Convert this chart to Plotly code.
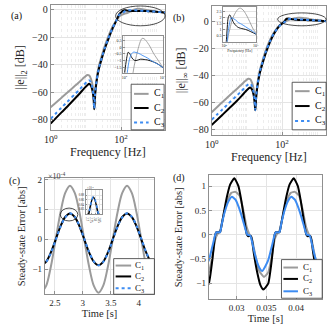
import plotly.graph_objects as go

W, H = 332, 324
SERIF = 'Liberation Serif'
GRAY = '#9b9b9b'
BLACK = '#000000'
BLUE = '#3d8cf2'
FRAME = '#8f8f8f'

# ---- (a), (b): error magnitude vs frequency ----
freq = [1, 2, 3, 5, 7, 9, 11, 12.5, 14, 15.5, 16.6, 17.3, 18.3, 20, 23, 28, 35, 45, 58, 75,
        90, 100, 110, 118, 125, 135, 150, 165, 180, 200, 230, 260, 290, 330, 400, 480, 580,
        700, 850, 1000, 1300, 1600, 2000]

a_c1 = [-71, -64.3, -60.3, -55.3, -52, -49.3, -47.6, -48, -50.5, -55, -62, -71.5, -60, -51, -42, -34, -26, -18.5, -12, -7.5,
        -4.8, -4.0, -3.5, -3.2, -3.0, -2.7, -2.4, -2.0, -1.4, -0.8, -0.1, 0.4, 0.65, 0.62, 0.35, 0.0, -0.45,
        -0.8, -1.15, -1.45, -1.8, -2.0, -2.3]
a_c2 = [-83, -75, -70.5, -64.5, -60.5, -57.3, -55, -54, -55.5, -59.5, -65, -72.5, -62, -53, -44, -36, -28, -20.5, -13.5, -7.5,
        -3.0, -2.0, -1.1, -0.6, -0.38, -0.45, -0.7, -0.88, -0.97, -1.0, -0.95, -0.9, -0.9, -0.92, -0.95, -1.02, -1.1,
        -1.2, -1.35, -1.5, -1.8, -2.0, -2.3]
a_c3 = [-79.5, -71.5, -67, -61.3, -57.5, -54.5, -52.2, -51.5, -53, -57.5, -64, -72, -61.5, -52.5, -43.5, -35.5, -27.5, -20, -13, -7.5,
        -3.6, -3.0, -2.4, -1.9, -1.4, -0.9, -0.55, -0.4, -0.37, -0.4, -0.45, -0.52, -0.6, -0.68, -0.8, -0.95, -1.1,
        -1.22, -1.35, -1.5, -1.8, -2.0, -2.3]

b_c1 = [-67.5, -60, -55.8, -50.5, -47, -44.3, -42.6, -43, -45.5, -50, -57, -65.5, -55, -46, -37, -29, -21, -14, -8.5, -4.5,
        -2.5, -1.7, -1.0, -0.5, -0.1, 0.5, 1.0, 1.45, 1.8, 2.1, 2.4, 2.6, 2.72, 2.75, 2.6, 2.3, 1.9,
        1.45, 1.0, 0.75, 0.45, 0.3, 0.1]
b_c2 = [-77, -69.5, -65, -59.5, -55.5, -52.3, -50, -49, -50.5, -54.5, -60, -66, -57, -48, -39, -31, -23, -15.5, -9.5, -5,
        -2.5, -1.6, -0.6, 0.2, 1.2, 2.0, 2.2, 2.0, 1.8, 1.55, 1.35, 1.22, 1.15, 1.1, 1.05, 1.0, 0.92,
        0.82, 0.72, 0.62, 0.45, 0.3, 0.1]
b_c3 = [-73, -65.5, -61, -55.5, -51.8, -48.8, -46.8, -46.2, -48, -52.5, -58.5, -65.8, -56, -47, -38, -30, -22, -15, -9, -5,
        -2.6, -1.8, -1.1, -0.5, 0.1, 0.9, 1.6, 1.95, 1.95, 1.88, 1.78, 1.65, 1.55, 1.48, 1.35, 1.22, 1.08,
        0.95, 0.8, 0.65, 0.45, 0.3, 0.1]

# ---- (c): steady-state error, x1e-4 ----
c_time = [2.26, 2.345, 2.43, 2.515, 2.6, 2.685, 2.77, 2.855, 2.94, 3.025, 3.11, 3.195, 3.28,
          3.365, 3.45, 3.535, 3.62, 3.705, 3.79, 3.875, 3.96, 4.045, 4.13, 4.215, 4.30]
c_c1 = [-1.8, -1.56, -0.9, 0, 0.9, 1.56, 1.8, 1.56, 0.9, 0, -0.9, -1.56, -1.8,
        -1.56, -0.9, 0, 0.9, 1.56, 1.8, 1.56, 0.9, 0, -0.9, -1.56, -1.8]
c_c2 = [-0.87, -0.75, -0.435, 0, 0.435, 0.75, 0.87, 0.75, 0.435, 0, -0.435, -0.75, -0.87,
        -0.75, -0.435, 0, 0.435, 0.75, 0.87, 0.75, 0.435, 0, -0.435, -0.75, -0.87]
c_c3 = [-0.87, -0.76, -0.45, -0.02, 0.42, 0.74, 0.872, 0.76, 0.45, 0.02, -0.42, -0.74, -0.872,
        -0.76, -0.45, -0.02, 0.42, 0.74, 0.872, 0.76, 0.45, 0.02, -0.42, -0.74, -0.872]

# ---- (d): steady-state error ----
d_time_c1 = [0.0246, 0.0253, 0.0259, 0.0264, 0.0268, 0.0272, 0.0277, 0.0284, 0.0291, 0.0298, 0.0305, 0.0311,
             0.0317, 0.0321, 0.0325, 0.0331, 0.0338, 0.0346, 0.0353, 0.0359, 0.0364, 0.0368, 0.0372, 0.0377,
             0.0384, 0.0391, 0.0398, 0.0405, 0.0411, 0.0417, 0.0421, 0.0425, 0.0431, 0.0438, 0.0446]
d_c1 = [-0.87, -0.78, -0.45, -0.1, 0.02, 0.08, 0.35, 0.68, 0.86, 0.88, 0.80, 0.52,
        0.15, 0.02, -0.05, -0.40, -0.75, -0.87, -0.78, -0.45, -0.1, 0.02, 0.08, 0.35,
        0.68, 0.86, 0.88, 0.80, 0.52, 0.15, 0.02, -0.05, -0.40, -0.75, -0.87]
d_time_c2 = [0.0245, 0.0253, 0.0259, 0.0264, 0.0266, 0.0272, 0.0274, 0.0279, 0.0284, 0.0289, 0.0296, 0.0303,
             0.0308, 0.0313, 0.0317, 0.0319, 0.0324, 0.0326, 0.0329, 0.0335, 0.0340, 0.0345, 0.0353, 0.0359,
             0.0364, 0.0366, 0.0372, 0.0374, 0.0379, 0.0384, 0.0389, 0.0396, 0.0403, 0.0408, 0.0413, 0.0417,
             0.0419, 0.0424, 0.0426, 0.0429, 0.0435, 0.0440, 0.0445]
d_c2 = [-1.13, -1.01, -0.53, 0.0, 0.05, 0.05, 0.15, 0.49, 0.80, 1.03, 1.16, 1.00,
        0.69, 0.29, 0.01, -0.03, -0.03, -0.12, -0.39, -0.80, -1.04, -1.13, -1.01, -0.53,
        0.0, 0.05, 0.05, 0.15, 0.49, 0.80, 1.03, 1.16, 1.00, 0.69, 0.29, 0.01,
        -0.03, -0.03, -0.12, -0.39, -0.80, -1.04, -1.13]
d_time_c3 = [0.0243, 0.0253, 0.0259, 0.0264, 0.0266, 0.0272, 0.0275, 0.0280, 0.0286, 0.0292, 0.0298, 0.0304,
             0.0310, 0.0316, 0.0318, 0.0323, 0.0326, 0.0331, 0.0337, 0.0343, 0.0353, 0.0359, 0.0364, 0.0366,
             0.0372, 0.0375, 0.0380, 0.0386, 0.0392, 0.0398, 0.0404, 0.0410, 0.0416, 0.0418, 0.0423, 0.0426,
             0.0431, 0.0437, 0.0443, 0.0453]
d_c3 = [-0.75, -0.53, -0.25, 0.0, 0.05, 0.05, 0.22, 0.47, 0.68, 0.78, 0.72, 0.55,
        0.32, 0.06, 0.0, -0.02, -0.15, -0.42, -0.65, -0.75, -0.53, -0.25, 0.0, 0.05,
        0.05, 0.22, 0.47, 0.68, 0.78, 0.72, 0.55, 0.32, 0.06, 0.0, -0.02, -0.15,
        -0.42, -0.65, -0.75, -0.53]

series_names = ['C<sub>1</sub>', 'C<sub>2</sub>', 'C<sub>3</sub>']


def dom_x(x0, x1):
    return [x0 / W, x1 / W]


def dom_y(y0, y1):
    return [1 - y1 / H, 1 - y0 / H]


def px(x):
    return x / W


def py(y):
    return 1 - y / H


def axis(size=10, **kw):
    d = dict(showline=True, mirror=True, linecolor=FRAME, linewidth=1,
             ticks='inside', ticklen=3, tickcolor=FRAME,
             showgrid=True, gridcolor='#e4e4e4', gridwidth=1, zeroline=False,
             tickfont=dict(family=SERIF, size=size, color='#262626'))
    d.update(kw)
    return d


fig = go.Figure()

colors = [GRAY, BLACK, BLUE]


def add_three(xs, ys, xa, ya, width=2.0, last_dash='dot', smoothing=0.9):
    for x, y, c, dash in zip(xs, ys, colors, ['solid', 'solid', last_dash]):
        fig.add_trace(go.Scatter(x=x, y=y, xaxis=xa, yaxis=ya, mode='lines',
                                 line=dict(color=c, width=width, dash=dash, shape='spline', smoothing=smoothing),
                                 hoverinfo='skip', showlegend=False))


# (a) main + inset
add_three([freq] * 3, [a_c1, a_c2, a_c3], 'x', 'y')
add_three([freq] * 3, [a_c1, a_c2, a_c3], 'x2', 'y2', width=0.9, last_dash='solid')
# (b) main + inset
add_three([freq] * 3, [b_c1, b_c2, b_c3], 'x3', 'y3')
add_three([freq] * 3, [b_c1, b_c2, b_c3], 'x4', 'y4', width=0.9, last_dash='solid')
# (c) main + inset
add_three([c_time] * 3, [c_c1, c_c2, c_c3], 'x5', 'y5')
add_three([c_time] * 3, [c_c1, c_c2, c_c3], 'x6', 'y6', width=1.6, last_dash='dot')
# (d)
add_three([d_time_c1, d_time_c2, d_time_c3], [d_c1, d_c2, d_c3], 'x7', 'y7', width=2.0, last_dash='solid', smoothing=0.5)

logx = dict(type='log', tickvals=[1, 100],
            ticktext=['10<sup>0</sup>', '10<sup>2</sup>'],
            minor=dict(showgrid=True, gridcolor='#ededed', griddash='dot', dtick='D1', ticks=''))
title_font = dict(family=SERIF, size=12, color='#262626')
small_title = dict(family=SERIF, size=10.5, color='#262626')
tiny = dict(family=SERIF, size=4, color='#262626')

fig.update_layout(
    width=W, height=H, margin=dict(l=0, r=0, t=0, b=0),
    paper_bgcolor='white', plot_bgcolor='white', showlegend=False,
    font=dict(family=SERIF),
    # (a)
    xaxis=axis(domain=dom_x(45, 163), range=[0, 3.25], anchor='y',
               title=dict(text='Frequency [Hz]', font=title_font, standoff=2), **logx),
    yaxis=axis(domain=dom_y(2, 128), range=[-87.5, 3.4], anchor='x',
               tickvals=[-80, -60, -40, -20, 0],
               title=dict(text='||e||<sub>2</sub> [dB]', font=title_font, standoff=4)),
    xaxis2=axis(size=4, domain=dom_x(120, 161), range=[1.97, 3.02], anchor='y2', type='log',
                tickvals=[100, 1000], ticktext=['10<sup>2</sup>', '10<sup>3</sup>'], ticklen=1.5),
    yaxis2=axis(size=4, domain=dom_y(33, 71), range=[-1.95, 0.85], anchor='x2',
                tickvals=[-1.5, -1, -0.5, 0, 0.5], ticklen=1.5),
    # (b)
    xaxis3=axis(domain=dom_x(211, 329), range=[0, 3.25], anchor='y3',
                title=dict(text='Frequency [Hz]', font=title_font, standoff=2), **logx),
    yaxis3=axis(domain=dom_y(3, 133), range=[-84.2, 11.5], anchor='x3',
                tickvals=[-80, -60, -40, -20, 0],
                title=dict(text='||e||<sub>∞</sub> [dB]', font=title_font, standoff=4)),
    xaxis4=axis(size=4, domain=dom_x(223, 257), range=[1.97, 3.02], anchor='y4', type='log',
                tickvals=[100, 1000], ticktext=['10<sup>2</sup>', '10<sup>3</sup>'], ticklen=1.5,
                title=dict(text='Frequency [Hz]', font=tiny, standoff=1)),
    yaxis4=axis(size=4, domain=dom_y(4, 39), range=[0, 2.85], anchor='x4',
                tickvals=[0.5, 1, 1.5, 2, 2.5], ticklen=1.5),
    # (c)
    xaxis5=axis(size=9, domain=dom_x(39, 152), range=[2.32, 4.28], anchor='y5',
                tickvals=[2.5, 3, 3.5, 4],
                title=dict(text='Time [s]', font=small_title, standoff=2)),
    yaxis5=axis(size=9, domain=dom_y(177, 294), range=[-1.85, 2.05], anchor='x5',
                tickvals=[-1, 0, 1, 2],
                title=dict(text='Steady-state Error [abs]', font=small_title, standoff=4)),
    xaxis6=axis(size=3, domain=dom_x(81, 98), range=[2.67, 2.88], anchor='y6',
                tickvals=[2.7, 2.75, 2.8, 2.85], ticklen=1),
    yaxis6=axis(size=3, domain=dom_y(189, 213), range=[0.80, 0.90], anchor='x6',
                tickvals=[0.82, 0.84, 0.86, 0.88], ticklen=1),
    # (d)
    xaxis7=axis(size=9, domain=dom_x(208, 325), range=[0.0253, 0.0444], anchor='y7',
                tickvals=[0.03, 0.035, 0.04],
                title=dict(text='Time [s]', font=small_title, standoff=2)),
    yaxis7=axis(size=9, domain=dom_y(174, 299), range=[-1.33, 1.22], anchor='x7',
                tickvals=[-1, -0.5, 0, 0.5, 1],
                title=dict(text='Steady-state Error [abs]', font=small_title, standoff=4)),
)

shapes = []
annotations = []

# ellipses marking the zoomed regions
for x0, y0, x1, y1 in [(112, 3, 163, 23), (279, 10, 329, 23), (55, 207, 73, 220)]:
    shapes.append(dict(type='circle', xref='paper', yref='paper',
                       x0=px(x0), x1=px(x1), y0=py(y1), y1=py(y0),
                       line=dict(color='#222222', width=0.8)))


def add_legend(box, rows, lx0, lx1, tx, dotted=True, size=10):
    x0, y0, x1, y1 = box
    shapes.append(dict(type='rect', xref='paper', yref='paper', x0=px(x0), x1=px(x1), y0=py(y1), y1=py(y0),
                       fillcolor='white', line=dict(color='#333333', width=0.8)))
    dashes = ['solid', 'solid', 'dot' if dotted else 'solid']
    for yy, c, dash, name in zip(rows, colors, dashes, series_names):
        shapes.append(dict(type='line', xref='paper', yref='paper', x0=px(lx0), x1=px(lx1), y0=py(yy), y1=py(yy),
                           line=dict(color=c, width=2, dash=dash)))
        annotations.append(dict(text=name, xref='paper', yref='paper', x=px(tx), y=py(yy),
                                xanchor='left', yanchor='middle', showarrow=False,
                                font=dict(family=SERIF, size=size, color='#111111')))


add_legend((128, 82, 162, 128), [91.7, 106, 120.7], 131, 146, 149)
add_legend((294, 80, 329, 128), [89, 104, 119], 297, 312, 315)
add_legend((110, 258, 152, 294), [265, 276, 288], 112, 128, 130, size=9)
add_legend((283, 259, 325, 298), [267, 278.5, 291], 285, 300, 303, dotted=False, size=9)

for label, x, y in [('(a)', 10, 13), ('(b)', 177, 15), ('(c)', 8, 180), ('(d)', 177, 177)]:
    annotations.append(dict(text=label, xref='paper', yref='paper', x=px(x), y=py(y),
                            xanchor='center', yanchor='middle', showarrow=False,
                            font=dict(family=SERIF, size=10, color='#111111')))

annotations.append(dict(text='×10<sup>-4</sup>', xref='paper', yref='paper', x=px(40), y=py(175),
                        xanchor='left', yanchor='middle', showarrow=False,
                        font=dict(family=SERIF, size=8, color='#444444')))
annotations.append(dict(text='×10<sup>-4</sup>', xref='paper', yref='paper', x=px(80), y=py(187),
                        xanchor='left', yanchor='middle', showarrow=False,
                        font=dict(family=SERIF, size=3, color='#444444')))

fig.update_layout(shapes=shapes, annotations=annotations)
fig.write_html("out.html", config={'displayModeBar': False},
               post_script="document.body.style.margin='0';")
